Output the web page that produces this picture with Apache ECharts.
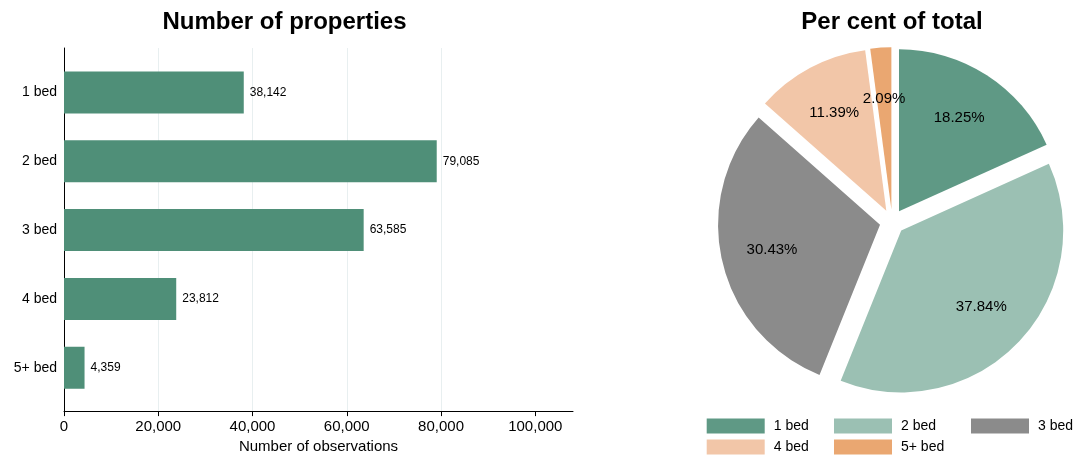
<!DOCTYPE html>
<html>
<head>
<meta charset="utf-8">
<script src="https://cdn.jsdelivr.net/npm/echarts@6/dist/echarts.min.js"></script>
<style>
  html, body { margin: 0; padding: 0; background: #fff; }
  #chart { width: 1079px; height: 459px; }
</style>
</head>
<body>
<div id="chart"></div>
<script>
  // data
  const categories = ['1 bed', '2 bed', '3 bed', '4 bed', '5+ bed'];
  const counts = [38142, 79085, 63585, 23812, 4359];
  const xTickValues = [0, 20000, 40000, 60000, 80000, 100000];
  const xMax = 108000;
  const pieColors = ['#5f9985', '#9bc0b3', '#8b8b8b', '#f2c6a8', '#eaa771'];
  const barColor = '#4f8f78';

  const font = '"Liberation Sans", Arial, sans-serif';

  const pieData = categories.map((name, i) => ({
    name: name,
    value: counts[i],
    selected: true,
    itemStyle: { color: pieColors[i] }
  }));

  const pieBase = {
    type: 'pie',
    center: [892.2, 221.8],
    startAngle: 90,
    clockwise: true,
    selectedMode: 'multiple',
    selectedOffset: 12.5,
    avoidLabelOverlap: false,
    minShowLabelAngle: 0,
    labelLine: { show: false },
    emphasis: { disabled: true }
  };

  const chart = echarts.init(document.getElementById('chart'));
  chart.setOption({
    animation: false,
    textStyle: { fontFamily: font },
    title: [
      {
        text: 'Number of properties', left: 284.5, top: 10, textAlign: 'center', padding: 0,
        textStyle: { fontSize: 24, fontWeight: 'bold', color: '#000', fontFamily: font }
      },
      {
        text: 'Per cent of total', left: 892, top: 10, textAlign: 'center', padding: 0,
        textStyle: { fontSize: 24, fontWeight: 'bold', color: '#000', fontFamily: font }
      }
    ],
    legend: [
      { data: ['1 bed', '4 bed'], left: 706.7, top: 418.5 },
      { data: ['2 bed', '5+ bed'], left: 834, top: 418.5 },
      { data: ['3 bed'], left: 971, top: 418.5 }
    ].map(l => Object.assign({
      orient: 'vertical',
      padding: 0,
      itemWidth: 58,
      itemHeight: 15,
      itemGap: 6,
      icon: 'rect',
      selectedMode: false,
      textStyle: { fontSize: 14, color: '#000', fontFamily: font, padding: [0, 0, 0, 4] }
    }, l)),
    grid: [
      { left: 64, top: 48, width: 509, height: 363.5 },
      { left: 64, top: 58.1, width: 509, height: 344 }
    ],
    xAxis: [
      {
        gridIndex: 0, type: 'value',
        min: 0, max: xMax,
        name: 'Number of observations', nameLocation: 'middle', nameGap: 26,
        nameTextStyle: { fontSize: 15, color: '#000' },
        axisLine: { show: true, onZero: false, lineStyle: { color: '#000', width: 1 } },
        axisTick: { show: true, length: 5, lineStyle: { color: '#000' }, customValues: xTickValues },
        axisLabel: { fontSize: 15, color: '#000', margin: 8, customValues: xTickValues },
        splitLine: { show: true, showMinLine: false, showMaxLine: false, lineStyle: { color: '#e8eff0', width: 1 } }
      },
      {
        gridIndex: 1, type: 'value', show: false,
        min: 0, max: xMax
      }
    ],
    yAxis: [
      {
        gridIndex: 0, type: 'value', min: 0, max: 1,
        axisLine: { show: true, onZero: false, lineStyle: { color: '#000', width: 1 } },
        axisTick: { show: false },
        axisLabel: { show: false },
        splitLine: { show: false }
      },
      {
        gridIndex: 1, type: 'category', inverse: true, data: categories,
        axisLine: { show: false },
        axisTick: { show: false },
        axisLabel: { fontSize: 14, color: '#000', margin: 7 },
        splitLine: { show: false }
      }
    ],
    series: [
      {
        name: 'Number of properties',
        type: 'bar',
        xAxisIndex: 1,
        yAxisIndex: 1,
        data: counts,
        barWidth: 42,
        itemStyle: { color: barColor },
        label: {
          show: true, position: 'right', distance: 6,
          fontSize: 12, color: '#000',
          formatter: p => p.value.toLocaleString('en-US')
        },
        emphasis: { disabled: true }
      },
      Object.assign({}, pieBase, {
        name: 'Per cent of total',
        radius: 162,
        data: pieData,
        label: { show: false }
      }),
      // transparent copy only to place the percentages at about 2/3 of the radius
      Object.assign({}, pieBase, {
        name: 'labels',
        radius: [54, 162],
        silent: true,
        labelLayout: { hideOverlap: false },
        data: pieData.map(d => Object.assign({}, d, { itemStyle: { color: 'rgba(0,0,0,0)' } })),
        label: {
          show: true, position: 'inside', fontSize: 15, color: '#000',
          overflow: 'none',
          formatter: '{d}%'
        }
      })
    ]
  });
</script>
</body>
</html>
